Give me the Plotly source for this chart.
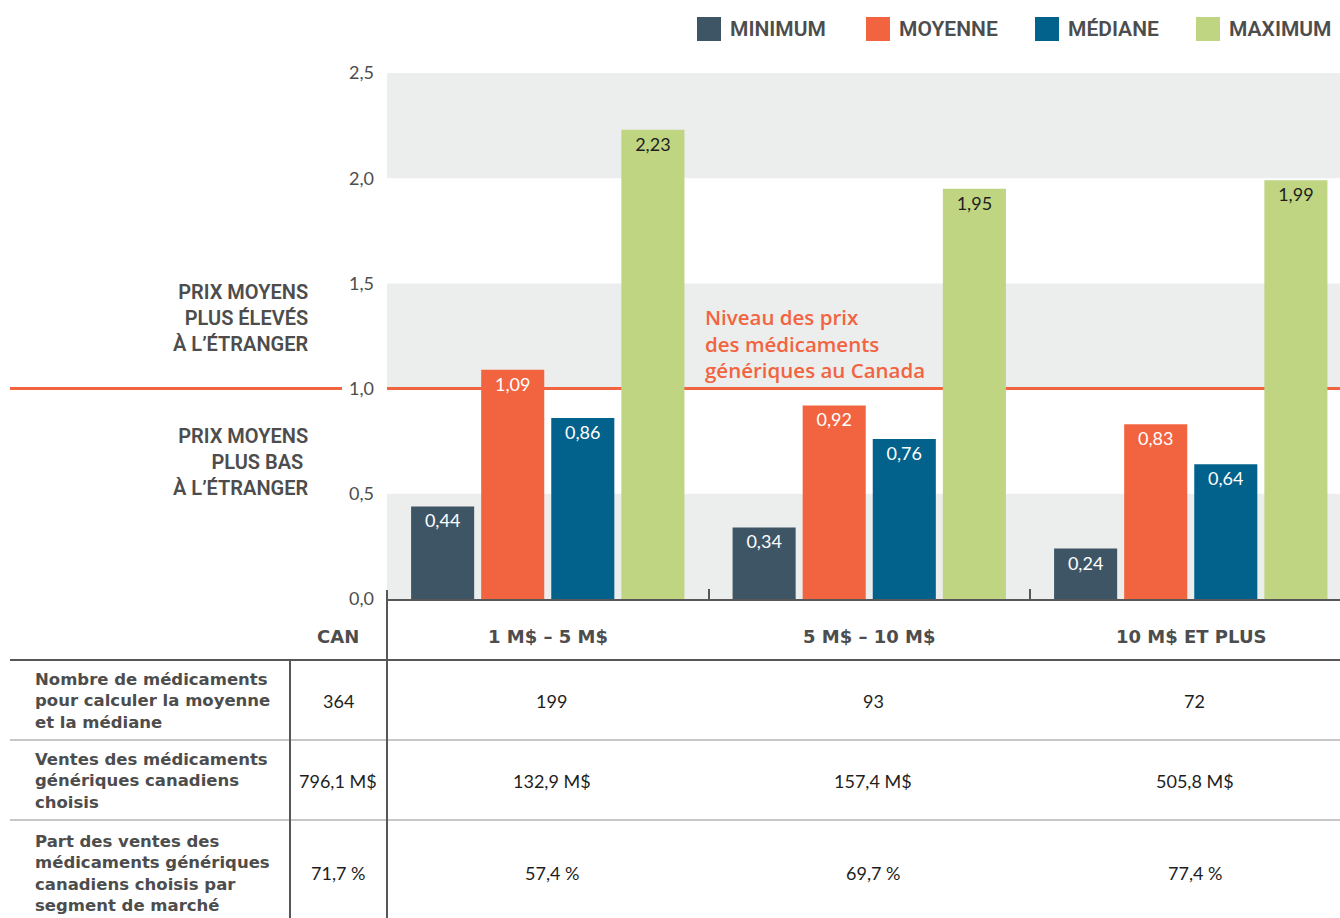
import plotly.graph_objects as go

# ---------------- data ----------------
categories = ["1 M$ – 5 M$", "5 M$ – 10 M$", "10 M$ ET PLUS"]
series_names = ["MINIMUM", "MOYENNE", "MÉDIANE", "MAXIMUM"]
minimum = [0.44, 0.34, 0.24]
moyenne = [1.09, 0.92, 0.83]
mediane = [0.86, 0.76, 0.64]
maximum = [2.23, 1.95, 1.99]

y_ticks = [0.0, 0.5, 1.0, 1.5, 2.0, 2.5]
y_tick_labels = ["0,0", "0,5", "1,0", "1,5", "2,0", "2,5"]
canada_level = 1.0

table_header_can = "CAN"
row_labels = [
    "Nombre de médicaments<br>pour calculer la moyenne<br>et la médiane",
    "Ventes des médicaments<br>génériques canadiens<br>choisis",
    "Part des ventes des<br>médicaments génériques<br>canadiens choisis par<br>segment de marché",
]
can_values = ["364", "796,1 M$", "71,7 %"]
segment_values = [
    ["199", "93", "72"],
    ["132,9 M$", "157,4 M$", "505,8 M$"],
    ["57,4 %", "69,7 %", "77,4 %"],
]
note_text = "Niveau des prix<br>des médicaments<br>génériques au Canada"

# ---------------- style ----------------
W, H = 1340, 918
colors = ["#3E5566", "#F26440", "#02628B", "#BFD582"]
text_colors = ["#FFFFFF", "#FFFFFF", "#FFFFFF", "#1E1E1E"]
band_color = "#ECEDED"
red = "#F26440"
dark = "#575757"
light_line = "#B4B4B4"
label_grey = "#4D4D4D"

F_COND = "Roboto"
F_BOLD = "Open Sans"
F_WIDE = "DejaVu Sans"
F_REG = "Lato"


def px(x):
    return x / W


def py(y):
    return 1 - y / H


def fmt(v):
    return f"{v:.2f}".replace(".", ",")


# x range: each category is ~321.5 px wide, the last one is cropped by the page edge
plot_left = 387
cat_px = 321.5
x_max = -0.5 + (W - plot_left) / cat_px

fig = go.Figure()
all_series = [minimum, moyenne, mediane, maximum]
for name, vals, c, tc in zip(series_names, all_series, colors, text_colors):
    fig.add_trace(go.Bar(
        x=list(range(len(categories))), y=vals, name=name,
        marker=dict(color=c, line=dict(width=0)),
        text=[fmt(v) for v in vals], textposition="inside",
        insidetextanchor="end", textangle=0, constraintext="none",
        insidetextfont=dict(family=F_REG, size=18, color=tc),
        hoverinfo="skip", showlegend=False, cliponaxis=True,
    ))

shapes = []
# grey bands
for i in range(0, len(y_ticks) - 1, 2):
    shapes.append(dict(type="rect", xref="x", yref="y", x0=-0.5, x1=x_max,
                       y0=y_ticks[i], y1=y_ticks[i + 1], fillcolor=band_color,
                       line=dict(width=0), layer="below"))
# Canada level line
shapes.append(dict(type="line", xref="x", yref="y", x0=-0.5, x1=x_max,
                   y0=canada_level, y1=canada_level, line=dict(color=red, width=3), layer="below"))
shapes.append(dict(type="line", xref="paper", yref="y", x0=px(10), x1=px(342),
                   y0=canada_level, y1=canada_level, line=dict(color=red, width=3)))

# table lines
shapes.append(dict(type="line", xref="paper", yref="paper", x0=px(10), x1=1,
                   y0=py(660), y1=py(660), line=dict(color=dark, width=2)))
for yy in (740, 820):
    shapes.append(dict(type="line", xref="paper", yref="paper", x0=px(10), x1=1,
                       y0=py(yy), y1=py(yy), line=dict(color=light_line, width=1.5)))
shapes.append(dict(type="line", xref="paper", yref="paper", x0=px(290), x1=px(290),
                   y0=py(660), y1=0, line=dict(color=dark, width=2)))
shapes.append(dict(type="line", xref="paper", yref="paper", x0=px(387), x1=px(387),
                   y0=py(590), y1=0, line=dict(color=dark, width=2)))

# legend (manual)
legend_x = [697, 866, 1035, 1196]
for lx, name, c in zip(legend_x, series_names, colors):
    shapes.append(dict(type="rect", xref="paper", yref="paper", x0=px(lx), x1=px(lx + 24),
                       y0=py(41), y1=py(17), fillcolor=c, line=dict(width=0)))

annotations = []
for lx, name in zip(legend_x, series_names):
    annotations.append(dict(xref="paper", yref="paper", x=px(lx + 31), y=py(29),
                            xanchor="left", yanchor="middle", text=name, showarrow=False,
                            font=dict(family=F_COND, size=21, color=label_grey, weight=600)))

# side labels
annotations.append(dict(xref="paper", yref="paper", x=px(310), y=py(318), xanchor="right",
                        yanchor="middle", align="right", showarrow=False,
                        text="PRIX MOYENS<br>PLUS ÉLEVÉS<br>À L’ÉTRANGER",
                        font=dict(family=F_COND, size=20, color=label_grey, weight=600)))
annotations.append(dict(xref="paper", yref="paper", x=px(310), y=py(462), xanchor="right",
                        yanchor="middle", align="right", showarrow=False,
                        text="PRIX MOYENS<br>PLUS BAS <br>À L’ÉTRANGER",
                        font=dict(family=F_COND, size=20, color=label_grey, weight=600)))
# Canada level note
annotations.append(dict(xref="paper", yref="paper", x=px(703), y=py(343),
                        xanchor="left", yanchor="middle", align="left", showarrow=False,
                        text=note_text,
                        font=dict(family=F_BOLD, size=20.5, color=red, weight=600)))

# category header row
annotations.append(dict(xref="paper", yref="paper", x=px(338), y=py(636), xanchor="center",
                        yanchor="middle", showarrow=False, text=table_header_can,
                        font=dict(family=F_WIDE, size=18, color=label_grey, weight=700)))
for i, cat in enumerate(categories):
    annotations.append(dict(xref="x", yref="paper", x=i, y=py(636), xanchor="center",
                            yanchor="middle", showarrow=False, text=cat,
                            font=dict(family=F_WIDE, size=18, color=label_grey, weight=700)))

# table rows
row_centers = [701, 781, 873]
for r, (lab, cv, segs, yc) in enumerate(zip(row_labels, can_values, segment_values, row_centers)):
    annotations.append(dict(xref="paper", yref="paper", x=px(33), y=py(yc), xanchor="left",
                            yanchor="middle", align="left", showarrow=False, text=lab,
                            font=dict(family=F_WIDE, size=16.5, color=label_grey, weight=700)))
    annotations.append(dict(xref="paper", yref="paper", x=px(338), y=py(yc), xanchor="center",
                            yanchor="middle", showarrow=False, text=cv,
                            font=dict(family=F_REG, size=18, color="#1E1E1E")))
    for i, sv in enumerate(segs):
        annotations.append(dict(xref="x", yref="paper", x=i, y=py(yc), xanchor="center",
                                yanchor="middle", showarrow=False, text=sv, xshift=4,
                                font=dict(family=F_REG, size=18, color="#1E1E1E")))

fig.update_layout(
    width=W, height=H, autosize=False,
    margin=dict(l=0, r=0, t=0, b=0, pad=0),
    paper_bgcolor="white", plot_bgcolor="rgba(0,0,0,0)",
    barmode="group", bargap=0.128, bargroupgap=0.1,
    shapes=shapes, annotations=annotations,
    showlegend=False,
    xaxis=dict(domain=[px(plot_left), 1], range=[-0.5, x_max],
               showgrid=False, zeroline=False, showticklabels=False, automargin=False,
               showline=True, linecolor=dark, linewidth=2,
               tickmode="array", tickvals=[-0.5, 0.5, 1.5], ticks="inside",
               ticklen=10, tickwidth=2, tickcolor=dark, fixedrange=True),
    yaxis=dict(domain=[py(599), py(73)], range=[0, 2.5], automargin=False,
               showgrid=False, zeroline=False, showline=False,
               tickmode="array", tickvals=y_ticks, ticktext=y_tick_labels,
               ticks="", ticklabelstandoff=12,
               tickfont=dict(family=F_REG, size=18, color=label_grey), fixedrange=True),
)

fig.write_html(
    "out.html",
    config={"displayModeBar": False, "responsive": False},
    post_script="document.body.style.margin='0';document.body.style.overflow='hidden';",
)
